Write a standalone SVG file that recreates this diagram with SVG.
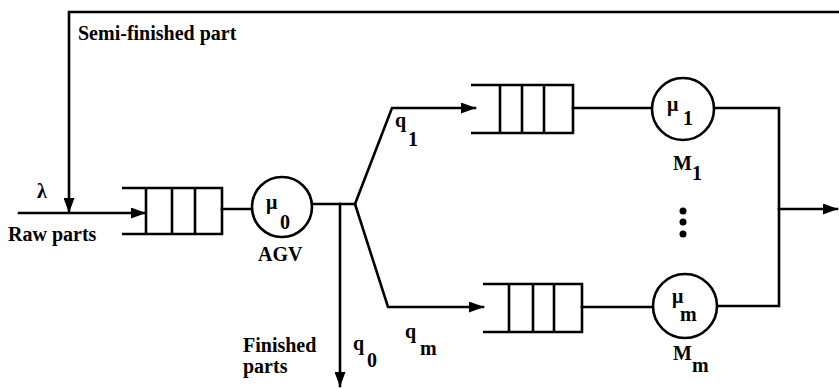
<svg xmlns="http://www.w3.org/2000/svg" width="839" height="389" viewBox="0 0 839 389">
<style>
  .ln { fill: none; stroke: #000; stroke-width: 2.6; stroke-linecap: square; }
  .q  { fill: none; stroke: #000; stroke-width: 2.6; }
  .srv { fill: #fff; stroke: #000; stroke-width: 2.6; }
  .t { font-family: 'Liberation Serif', 'DejaVu Serif', serif; font-weight: 700; font-size: 20px; fill: #000; }
  .dot { fill: #000; }
</style>
<defs>
  <marker id="arr" markerUnits="userSpaceOnUse" markerWidth="15" markerHeight="11" refX="14" refY="5.5" orient="auto">
    <path d="M0,0 L15,5.5 L0,11 Z" fill="#000"/>
  </marker>
</defs>
<rect width="839" height="389" fill="#fff"/>

<g id="connectors">
  <path class="ln" d="M839,12 L69,12 L69,212" marker-end="url(#arr)"/>
  <path class="ln" d="M19,213 L145,213" marker-end="url(#arr)"/>
  <path class="ln" d="M222,209 L252,209"/>
  <path class="ln" d="M312,204 L355,204"/>
  <path class="ln" d="M340,204 L340,386" marker-end="url(#arr)"/>
  <path class="ln" d="M355,204 L392,108 L475,108" marker-end="url(#arr)"/>
  <path class="ln" d="M355,204 L388,307 L483,307" marker-end="url(#arr)"/>
  <path class="ln" d="M573,108 L652,108"/>
  <path class="ln" d="M582,307 L653,307"/>
  <path class="ln" d="M714,108 L779,108 L779,306 L717,306"/>
  <path class="ln" d="M779,209 L837,209" marker-end="url(#arr)"/>
</g>

<g id="label-semifinished"><text class="t" x="78" y="40">Semi-finished part</text></g>
<g id="label-input">
  <text class="t" x="37" y="198">λ</text>
  <text class="t" x="8" y="241">Raw parts</text>
</g>

<g id="queue0">
  <path class="q" d="M122,188 L222,188 L222,234 L122,234 M146,188 L146,234 M172,188 L172,234 M195,188 L195,234"/>
</g>

<g id="agv">
  <circle class="srv" cx="282" cy="207" r="30"/>
  <text class="t" x="266" y="209">μ</text>
  <text class="t" x="280" y="229">0</text>
  <text class="t" x="258" y="261">AGV</text>
</g>

<g id="label-finished">
  <text class="t" x="243" y="352">Finished</text>
  <text class="t" x="243" y="373">parts</text>
  <text class="t" x="353" y="350">q</text>
  <text class="t" x="367" y="367">0</text>
</g>

<g id="label-q1">
  <text class="t" x="395" y="127">q</text>
  <text class="t" x="408" y="146">1</text>
</g>
<g id="label-qm">
  <text class="t" x="405" y="338">q</text>
  <text class="t" x="420" y="355">m</text>
</g>

<g id="queue1">
  <path class="q" d="M471,85 L573,85 L573,133 L471,133 M500,85 L500,133 M522,85 L522,133 M544,85 L544,133"/>
</g>

<g id="m1">
  <circle class="srv" cx="683" cy="109" r="31"/>
  <text class="t" x="667" y="111">μ</text>
  <text class="t" x="683" y="125">1</text>
  <text class="t" x="673" y="170">M</text>
  <text class="t" x="692" y="180">1</text>
</g>

<g id="dots">
  <circle class="dot" cx="683" cy="211" r="3.5"/>
  <circle class="dot" cx="683" cy="222" r="3.5"/>
  <circle class="dot" cx="683" cy="234" r="3.5"/>
</g>

<g id="queuem">
  <path class="q" d="M483,284 L582,284 L582,332 L483,332 M509,284 L509,332 M533,284 L533,332 M554,284 L554,332"/>
</g>

<g id="mm">
  <circle class="srv" cx="685" cy="306" r="32"/>
  <text class="t" x="672" y="303">μ</text>
  <text class="t" x="680" y="321">m</text>
  <text class="t" x="673" y="360">M</text>
  <text class="t" x="692" y="372">m</text>
</g>
</svg>
